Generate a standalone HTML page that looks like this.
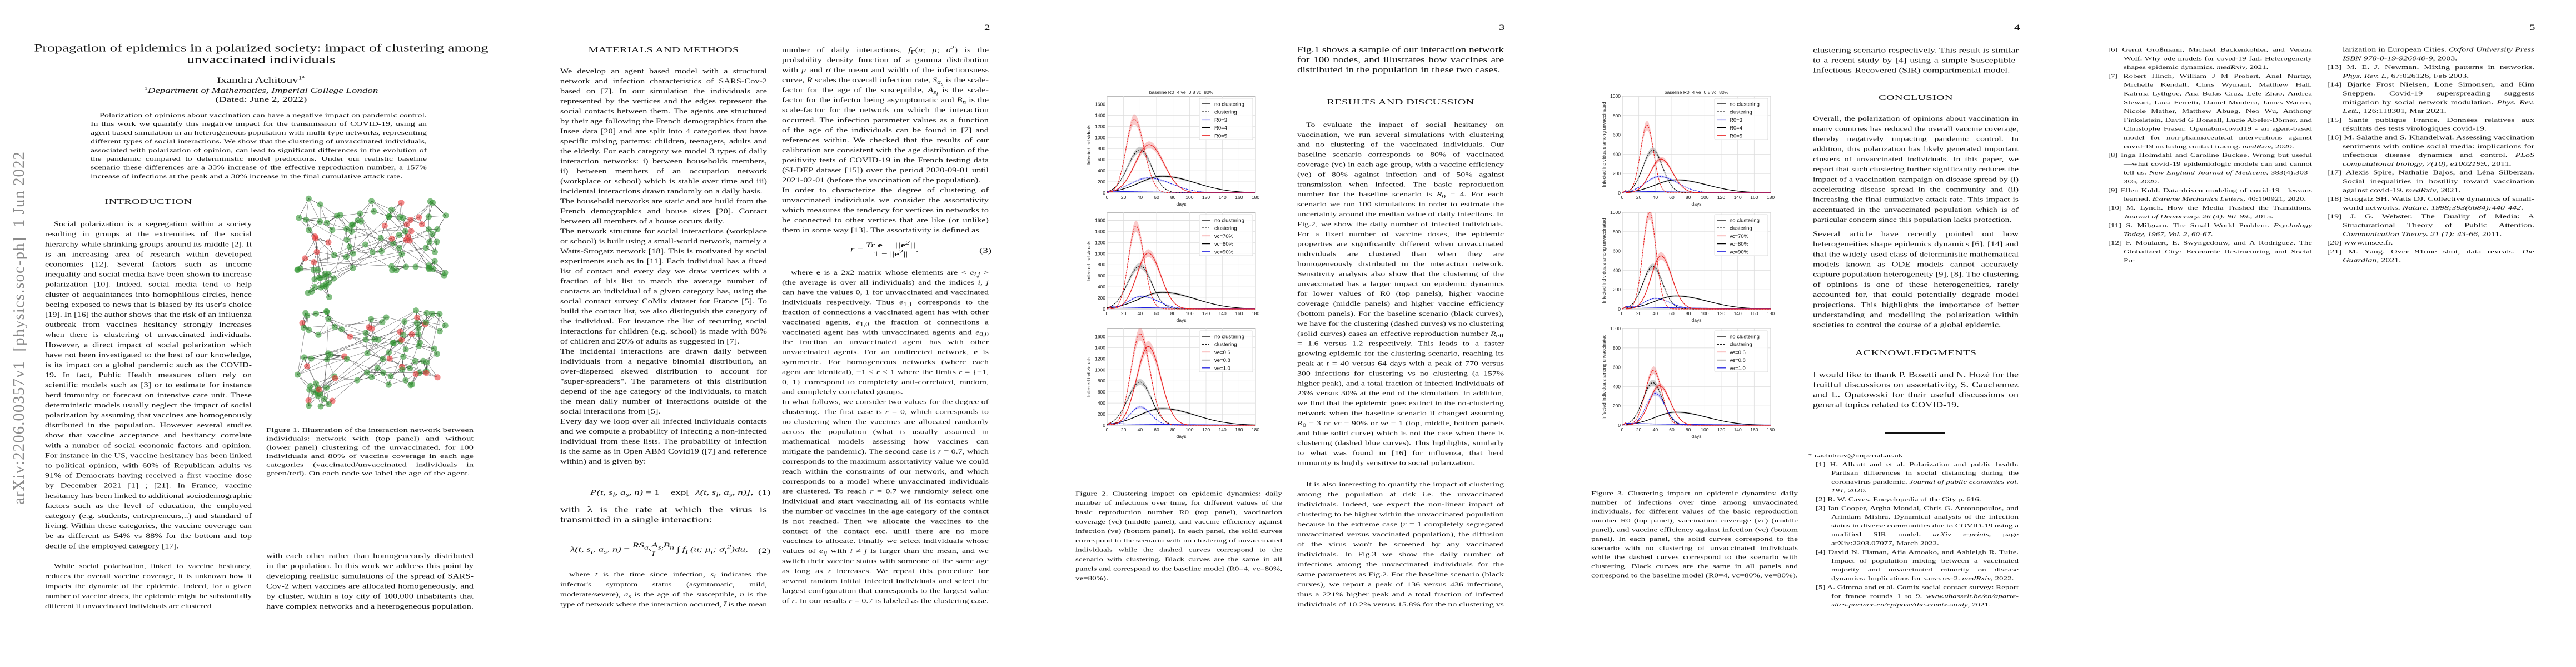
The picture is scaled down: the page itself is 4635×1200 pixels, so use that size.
<!DOCTYPE html>
<html lang="en"><head><meta charset="utf-8">
<style>
html,body{margin:0;padding:0;background:#fff;}
body{width:4635px;height:1200px;position:relative;overflow:hidden;font-family:"Liberation Serif",serif;color:#111;}
.s{transform:scaleY(0.69);transform-origin:0 0;}
.b,.cap,.ref{position:absolute;font-size:20px;line-height:24px;text-align:justify;hyphens:auto;-webkit-hyphens:auto;transform-origin:0 0;transform:scaleY(0.75);}
.b p,.cap p{margin:0;}
.ind{text-indent:16px;}
sub,sup{line-height:0;}
.h{position:absolute;font-size:20.3px;line-height:26px;text-align:center;letter-spacing:0.3px;transform:scaleY(0.69);transform-origin:0 0;}
.ref p{margin:0 0 0 28px;text-indent:-28px;}
.pn{position:absolute;top:41px;font-size:21px;transform:scaleY(0.69);transform-origin:0 0;}
.eq{position:absolute;font-size:19px;font-style:italic;white-space:nowrap;transform:scaleY(0.69);transform-origin:0 0;}
.eqn{position:absolute;font-size:19px;transform:scaleY(0.69);transform-origin:0 0;}
svg{position:absolute;overflow:visible;}
</style></head><body>

<div style="position:absolute;left:18px;top:908px;transform-origin:0 0;transform:rotate(-90deg);font-size:29px;color:#8a8a8a;white-space:nowrap;letter-spacing:1px;font-family:'Liberation Serif',serif;">arXiv:2206.00357v1&nbsp; [physics.soc-ph]&nbsp; 1 Jun 2022</div>

<!-- PAGE 1 -->
<div class="s" style="position:absolute;left:60px;width:820px;top:76px;text-align:center;font-size:26.8px;line-height:30.4px;">Propagation of epidemics in a polarized society: impact of clustering among<br>unvaccinated individuals</div>
<div class="s" style="position:absolute;left:100px;width:740px;top:136px;text-align:center;font-size:21px;">Ixandra Achitouv<sup style="font-size:13px">1*</sup></div>
<div class="s" style="position:absolute;left:100px;width:740px;top:156px;text-align:center;font-size:19px;font-style:italic;"><sup style="font-size:12px;font-style:normal">1</sup>Department of Mathematics, Imperial College London</div>
<div class="s" style="position:absolute;left:100px;width:740px;top:172px;text-align:center;font-size:19px;">(Dated: June 2, 2022)</div>
<div class="b" id="t1" style="left:163px;width:605px;top:200px;"><p class="ind">Polarization of opinions about vaccination can have a negative impact on pandemic control. In this work we quantify this negative impact for the transmission of COVID-19, using an agent based simulation in an heterogeneous population with multi-type networks, representing different types of social interactions. We show that the clustering of unvaccinated individuals, associated with polarization of opinion, can lead to significant differences in the evolution of the pandemic compared to deterministic model predictions. Under our realistic baseline scenario these differences are a 33% increase of the effective reproduction number, a 157% increase of infections at the peak and a 30% increase in the final cumulative attack rate.</p></div>
<div class="h" style="left:81px;width:372px;top:354px;">INTRODUCTION</div>
<div class="b" id="t2" style="left:81px;width:372px;top:395px;"><p class="ind">Social polarization is a segregation within a society resulting in groups at the extremities of the social hierarchy while shrinking groups around its middle [2]. It is an increasing area of research within developed economies [12]. Several factors such as income inequality and social media have been shown to increase polarization [10]. Indeed, social media tend to help cluster of acquaintances into homophilous circles, hence beeing exposed to news that is biased by its user's choice [19]. In [16] the author shows that the risk of an influenza outbreak from vaccines hesitancy strongly increases when there is clustering of unvaccinated individuals. However, a direct impact of social polarization which have not been investigated to the best of our knowledge, is its impact on a global pandemic such as the COVID-19. In fact, Public Health measures often rely on scientific models such as [3] or to estimate for instance herd immunity or forecast on intensive care unit. These deterministic models usually neglect the impact of social polarization by assuming that vaccines are homogenously distributed in the population. However several studies show that vaccine acceptance and hesitancy correlate with a number of social economic factors and opinion. For instance in the US, vaccine hesitancy has been linked to political opinion, with 60% of Republican adults vs 91% of Democrats having received a first vaccine dose by December 2021 [1] ; [21]. In France, vaccine hesitancy has been linked to additional sociodemographic factors such as the level of education, the employed category (e.g. students, entrepreneurs,..) and standard of living. Within these categories, the vaccine coverage can be as different as 54% vs 88% for the bottom and top decile of the employed category [17].</p></div>
<div class="b" id="t3" style="left:81px;width:372px;top:1010px;"><p class="ind">While social polarization, linked to vaccine hesitancy, reduces the overall vaccine coverage, it is unknown how it impacts the dynamic of the epidemic. Indeed, for a given number of vaccine doses, the epidemic might be substantially different if unvaccinated individuals are clustered</p></div>
<svg id="net" style="left:0;top:0;" width="930" height="800"></svg>
<div class="cap" id="t4" style="left:479px;width:373px;top:766px;">Figure 1. Illustration of the interaction network between individuals: network with (top panel) and without (lower panel) clustering of the unvaccinated, for 100 individuals and 80% of vaccine coverage in each age categories (vaccinated/unvaccinated individuals in green/red). On each node we label the age of the agent.</div>
<div class="b" id="t5" style="left:479px;width:373px;top:991px;"><p>with each other rather than homogeneously distributed in the population. In this work we address this point by developing realistic simulations of the spread of SARS-Cov-2 when vaccines are allocated homogeneously, and by cluster, within a toy city of 100,000 inhabitants that have complex networks and a heterogeneous population.</p></div>

<!-- PAGE 2 -->
<div class="pn" style="left:1771px;">2</div>
<div class="h" style="left:1008px;width:372px;top:81px;">MATERIALS AND METHODS</div>
<div class="b" id="t6" style="left:1008px;width:372px;top:119px;"><p>We develop an agent based model with a structural network and infection characteristics of SARS-Cov-2 based on [7]. In our simulation the individuals are represented by the vertices and the edges represent the social contacts between them. The agents are structured by their age following the French demographics from the Insee data [20] and are split into 4 categories that have specific mixing patterns: children, teenagers, adults and the elderly. For each category we model 3 types of daily interaction networks: i) between households members, ii) between members of an occupation network (workplace or school) which is stable over time and iii) incidental interactions drawn randomly on a daily basis.</p><p>The household networks are static and are build from the French demographics and house sizes [20]. Contact between all members of a house occurs daily.</p><p>The network structure for social interactions (workplace or school) is built using a small-world network, namely a Watts-Strogatz network [18]. This is motivated by social experiments such as in [11]. Each individual has a fixed list of contact and every day we draw vertices with a fraction of his list to match the average number of contacts an individual of a given category has, using the social contact survey CoMix dataset for France [5]. To build the contact list, we also distinguish the category of the individual. For instance the list of recurring social interactions for children (e.g. school) is made with 80% of children and 20% of adults as suggested in [7].</p><p>The incidental interactions are drawn daily between individuals from a negative binomial distribution, an over-dispersed skewed distribution to account for "super-spreaders". The parameters of this distribution depend of the age category of the individuals, to match the mean daily number of interactions outside of the social interactions from [5].</p><p>Every day we loop over all infected individuals contacts and we compute a probability of infecting a non-infected individual from these lists. The probability of infection is the same as in Open ABM Covid19 ([7] and reference within) and is given by:</p></div>
<div class="eq" style="left:1062px;top:879px;">P(t, s<sub>i</sub>, a<sub>s</sub>, n) <span style="font-style:normal">= 1 − exp[−</span>λ(t, s<sub>i</sub>, a<sub>s</sub>, n)],</div>
<div class="eqn" style="left:1364px;top:879px;">(1)</div>
<div class="b" id="t7" style="left:1008px;width:372px;top:908px;"><p>with λ is the rate at which the virus is transmitted in a single interaction:</p></div>
<div class="eq" style="left:1026px;top:974px;">λ(t, s<sub>i</sub>, a<sub>s</sub>, n) <span style="font-style:normal">=</span> <span style="display:inline-block;vertical-align:middle;text-align:center;"><span style="display:block;border-bottom:1px solid #111;">RS<sub>a<sub>s</sub></sub>A<sub>s<sub>i</sub></sub>B<sub>n</sub></span><span style="display:block;">Ī</span></span> ∫ f<sub>Γ</sub>(u; μ<sub>i</sub>; σ<sub>i</sub><sup>2</sup>)du,</div>
<div class="eqn" style="left:1364px;top:984px;">(2)</div>
<div class="b" id="t8" style="left:1008px;width:372px;top:1025px;"><p class="ind">where <i>t</i> is the time since infection, <i>s<sub>i</sub></i> indicates the infector's symptom status (asymtomatic, mild, moderate/severe), <i>a<sub>s</sub></i> is the age of the susceptible, <i>n</i> is the type of network where the interaction occurred, <i>Ī</i> is the mean</p></div>
<div class="b" id="t9" style="left:1407px;width:372px;top:81px;"><p>number of daily interactions, <i>f</i><sub>Γ</sub>(<i>u</i>; <i>μ</i>; <i>σ</i><sup>2</sup>) is the probability density function of a gamma distribution with <i>μ</i> and <i>σ</i> the mean and width of the infectiousness curve, <i>R</i> scales the overall infection rate, <i>S<sub>a<sub>s</sub></sub></i> is the scale-factor for the age of the susceptible, <i>A<sub>s<sub>i</sub></sub></i> is the scale-factor for the infector being asymptomatic and <i>B<sub>n</sub></i> is the scale-factor for the network on which the interaction occurred. The infection parameter values as a function of the age of the individuals can be found in [7] and references within. We checked that the results of our calibration are consistent with the age distribution of the positivity tests of COVID-19 in the French testing data (SI-DEP dataset [15]) over the period 2020-09-01 until 2021-02-01 (before the vaccination of the population).</p><p>In order to characterize the degree of clustering of unvaccinated individuals we consider the assortativity which measures the tendency for vertices in networks to be connected to other vertices that are like (or unlike) them in some way [13]. The assortativity is defined as</p></div>
<div class="eq" style="left:1530px;top:434px;">r <span style="font-style:normal">=</span> <span style="display:inline-block;vertical-align:middle;text-align:center;"><span style="display:block;border-bottom:1px solid #111;">Tr <b style="font-style:normal">e</b> − ||<b style="font-style:normal">e</b><sup>2</sup>||</span><span style="display:block;font-style:normal">1 − ||<b>e</b><sup>2</sup>||</span></span>,</div>
<div class="eqn" style="left:1762px;top:444px;">(3)</div>
<div class="b" id="t10" style="left:1407px;width:372px;top:482px;"><p class="ind">where <b>e</b> is a 2x2 matrix whose elements are &lt; <i>e<sub>i,j</sub></i> &gt; (the average is over all individuals) and the indices <i>i, j</i> can have the values 0, 1 for unvaccinated and vaccinated individuals respectively. Thus <i>e</i><sub>1,1</sub> corresponds to the fraction of connections a vaccinated agent has with other vaccinated agents, <i>e</i><sub>1,0</sub> the fraction of connections a vaccinated agent has with unvaccinated agents and <i>e</i><sub>0,0</sub> the fraction an unvaccinated agent has with other unvaccinated agents. For an undirected network, <b>e</b> is symmetric. For homogeneous networks (where each agent are identical), −1 ≤ <i>r</i> ≤ 1 where the limits <i>r</i> = {−1, 0, 1} correspond to completely anti-correlated, random, and completely correlated groups.</p><p>In what follows, we consider two values for the degree of clustering. The first case is <i>r</i> = 0, which corresponds to no-clustering when the vaccines are allocated randomly across the population (what is usually assumed in mathematical models assessing how vaccines can mitigate the pandemic). The second case is <i>r</i> = 0.7, which corresponds to the maximum assortativity value we could reach within the constraints of our network, and which corresponds to a model where unvaccinated individuals are clustered. To reach <i>r</i> = 0.7 we randomly select one individual and start vaccinating all of its contacts while the number of vaccines in the age category of the contact is not reached. Then we allocate the vaccines to the contact of the contact etc. until there are no more vaccines to allocate. Finally we select individuals whose values of <i>e<sub>ij</sub></i> with <i>i</i> ≠ <i>j</i> is larger than the mean, and we switch their vaccine status with someone of the same age as long as <i>r</i> increases. We repeat this procedure for several random initial infected individuals and select the largest configuration that corresponds to the largest value of <i>r</i>. In our results <i>r</i> = 0.7 is labeled as the clustering case.</p></div>

<!-- PAGE 3 -->
<div class="pn" style="left:2697px;">3</div>
<svg id="plots" style="left:0;top:0;" width="4635" height="1200"></svg>
<div class="cap" id="t11" style="left:1935px;width:372px;top:880px;">Figure 2. Clustering impact on epidemic dynamics: daily number of infections over time, for different values of the basic reproduction number R0 (top panel), vaccination coverage (vc) (middle panel), and vaccine efficiency against infection (ve) (bottom panel). In each panel, the solid curves correspond to the scenario with no clustering of unvaccinated individuals while the dashed curves correspond to the scenario with clustering. Black curves are the same in all panels and correspond to the baseline model (R0=4, vc=80%, ve=80%).</div>
<div class="b" id="t12" style="left:2334px;width:372px;top:81px;"><p>Fig.1 shows a sample of our interaction network for 100 nodes, and illustrates how vaccines are distributed in the population in these two cases.</p></div>
<div class="h" style="left:2334px;width:372px;top:175px;">RESULTS AND DISCUSSION</div>
<div class="b" id="t13" style="left:2334px;width:372px;top:216px;"><p class="ind">To evaluate the impact of social hesitancy on vaccination, we run several simulations with clustering and no clustering of the vaccinated individuals. Our baseline scenario corresponds to 80% of vaccinated coverage (vc) in each age group, with a vaccine efficiency (ve) of 80% against infection and of 50% against transmission when infected. The basic reproduction number for the baseline scenario is <i>R</i><sub>0</sub> = 4. For each scenario we run 100 simulations in order to estimate the uncertainty around the median value of daily infections. In Fig.2, we show the daily number of infected individuals. For a fixed number of vaccine doses, the epidemic properties are significantly different when unvaccinated individuals are clustered than when they are homogeneously distributed in the interaction network. Sensitivity analysis also show that the clustering of the unvaccinated has a larger impact on epidemic dynamics for lower values of R0 (top panels), higher vaccine coverage (middle panels) and higher vaccine efficiency (bottom panels). For the baseline scenario (black curves), we have for the clustering (dashed curves) vs no clustering (solid curves) cases an effective reproduction number <i>R</i><sub>eff</sub> = 1.6 versus 1.2 respectively. This leads to a faster growing epidemic for the clustering scenario, reaching its peak at <i>t</i> = 40 versus 64 days with a peak of 770 versus 300 infections for clustering vs no clustering (a 157% higher peak), and a total fraction of infected individuals of 23% versus 30% at the end of the simulation. In addition, we find that the epidemic goes extinct in the no-clustering network when the baseline scenario if changed assuming <i>R</i><sub>0</sub> = 3 or <i>vc</i> = 90% or <i>ve</i> = 1 (top, middle, bottom panels and blue solid curve) which is not the case when there is clustering (dashed blue curves). This highlights, similarly to what was found in [16] for influenza, that herd immunity is highly sensitive to social polarization.</p></div>
<div class="b" id="t14" style="left:2334px;width:372px;top:863px;"><p class="ind">It is also interesting to quantify the impact of clustering among the population at risk i.e. the unvaccinated individuals. Indeed, we expect the non-linear impact of clustering to be higher within the unvaccinated population because in the extreme case (<i>r</i> = 1 completely segregated unvaccinated versus vaccinated population), the diffusion of the virus won't be screened by any vaccinated individuals. In Fig.3 we show the daily number of infections among the unvaccinated individuals for the same parameters as Fig.2. For the baseline scenario (black curves), we report a peak of 136 versus 436 infections, thus a 221% higher peak and a total fraction of infected individuals of 10.2% versus 15.8% for the no clustering vs</p></div>

<!-- PAGE 4 -->
<div class="pn" style="left:3624px;">4</div>
<div class="cap" id="t15" style="left:2863px;width:372px;top:880px;">Figure 3. Clustering impact on epidemic dynamics: daily number of infections over time among unvaccinated individuals, for different values of the basic reproduction number R0 (top panel), vaccination coverage (vc) (middle panel), and vaccine efficiency against infection (ve) (bottom panel). In each panel, the solid curves correspond to the scenario with no clustering of unvaccinated individuals while the dashed curves correspond to the scenario with clustering. Black curves are the same in all panels and correspond to the baseline model (R0=4, vc=80%, ve=80%).</div>
<div class="b" id="t16" style="left:3262px;width:370px;top:81px;"><p>clustering scenario respectively. This result is similar to a recent study by [4] using a simple Susceptible-Infectious-Recovered (SIR) compartmental model.</p></div>
<div class="h" style="left:3262px;width:370px;top:167px;">CONCLUSION</div>
<div class="b" id="t17" style="left:3262px;width:370px;top:205px;"><p>Overall, the polarization of opinions about vaccination in many countries has reduced the overall vaccine coverage, thereby negatively impacting pandemic control. In addition, this polarization has likely generated important clusters of unvaccinated individuals. In this paper, we report that such clustering further significantly reduces the impact of a vaccination campaign on disease spread by (i) accelerating disease spread in the community and (ii) increasing the final cumulative attack rate. This impact is accentuated in the unvaccinated population which is of particular concern since this population lacks protection.</p></div>
<div class="b" id="t18" style="left:3262px;width:370px;top:412px;"><p>Several article have recently pointed out how heterogeneities shape epidemics dynamics [6], [14] and that the widely-used class of deterministic mathematical models known as ODE models cannot accurately capture population heterogeneity [9], [8]. The clustering of opinions is one of these heterogeneities, rarely accounted for, that could potentially degrade model projections. This highlights the importance of better understanding and modelling the polarization within societies to control the course of a global epidemic.</p></div>
<div class="h" style="left:3262px;width:370px;top:626px;">ACKNOWLEDGMENTS</div>
<div class="b" id="t19" style="left:3262px;width:370px;top:665px;"><p>I would like to thank P. Bosetti and N. Hozé for the fruitful discussions on assortativity, S. Cauchemez and L. Opatowski for their useful discussions on general topics related to COVID-19.</p></div>
<div style="position:absolute;left:3392px;width:107px;top:778px;height:2px;background:#111;"></div>
<div class="ref" id="t20" style="left:3267px;width:365px;top:812px;">
<p style="margin-left:14px">* i.achitouv@imperial.ac.uk</p>
<p>[1] H. Allcott and et al. Polarization and public health: Partisan differences in social distancing during the coronavirus pandemic. <i>Journal of public economics vol. 191</i>, 2020.</p>
<p>[2] R. W. Caves. Encyclopedia of the City p. 616.</p>
<p>[3] Ian Cooper, Argha Mondal, Chris G. Antonopoulos, and Arindam Mishra. Dynamical analysis of the infection status in diverse communities due to COVID-19 using a modified SIR model. <i>arXiv e-prints</i>, page arXiv:2203.07077, March 2022.</p>
<p>[4] David N. Fisman, Afia Amoako, and Ashleigh R. Tuite. Impact of population mixing between a vaccinated majority and unvaccinated minority on disease dynamics: Implications for sars-cov-2. <i>medRxiv</i>, 2022.</p>
<p>[5] A. Gimma and et al. Comix social contact survey: Report for france rounds 1 to 9. <i>www.uhasselt.be/en/aparte-sites-partner-en/epipose/the-comix-study</i>, 2021.</p>
</div>

<!-- PAGE 5 -->
<div class="pn" style="left:4551px;">5</div>
<div class="ref" id="t21" style="left:3793px;width:367px;top:82px;">
<p>[6] Gerrit Großmann, Michael Backenköhler, and Verena Wolf. Why ode models for covid-19 fail: Heterogeneity shapes epidemic dynamics. <i>medRxiv</i>, 2021.</p>
<p>[7] Robert Hinch, William J M Probert, Anel Nurtay, Michelle Kendall, Chris Wymant, Matthew Hall, Katrina Lythgoe, Ana Bulas Cruz, Lele Zhao, Andrea Stewart, Luca Ferretti, Daniel Montero, James Warren, Nicole Mather, Matthew Abueg, Neo Wu, Anthony Finkelstein, David G Bonsall, Lucie Abeler-Dörner, and Christophe Fraser. Openabm-covid19 - an agent-based model for non-pharmaceutical interventions against covid-19 including contact tracing. <i>medRxiv</i>, 2020.</p>
<p>[8] Inga Holmdahl and Caroline Buckee. Wrong but useful—what covid-19 epidemiologic models can and cannot tell us. <i>New England Journal of Medicine</i>, 383(4):303–305, 2020.</p>
<p>[9] Ellen Kuhl. Data-driven modeling of covid-19—lessons learned. <i>Extreme Mechanics Letters</i>, 40:100921, 2020.</p>
<p>[10] M. Lynch. How the Media Trashed the Transitions. <i>Journal of Democracy. 26 (4): 90–99.</i>, 2015.</p>
<p>[11] S. Milgram. The Small World Problem. <i>Psychology Today, 1967, Vol. 2, 60-67.</i></p>
<p>[12] F. Moulaert, E. Swyngedouw, and A Rodriguez. The Globalized City: Economic Restructuring and Social Po-</p>
</div>
<div class="ref" id="t22" style="left:4187px;width:373px;top:82px;">
<p style="margin-left:0;text-indent:0;padding-left:28px">larization in European Cities. <i>Oxford University Press ISBN 978-0-19-926040-9</i>, 2003.</p>
<p>[13] M. E. J. Newman. Mixing patterns in networks. <i>Phys. Rev. E</i>, 67:026126, Feb 2003.</p>
<p>[14] Bjarke Frost Nielsen, Lone Simonsen, and Kim Sneppen. Covid-19 superspreading suggests mitigation by social network modulation. <i>Phys. Rev. Lett.</i>, 126:118301, Mar 2021.</p>
<p>[15] Santé publique France. Données relatives aux résultats des tests virologiques covid-19.</p>
<p>[16] M. Salathe and S. Khandelwal. Assessing vaccination sentiments with online social media: implications for infectious disease dynamics and control. <i>PLoS computational biology, 7(10), e1002199.</i>, 2011.</p>
<p>[17] Alexis Spire, Nathalie Bajos, and Léna Silberzan. Social inequalities in hostility toward vaccination against covid-19. <i>medRxiv</i>, 2021.</p>
<p>[18] Strogatz SH. Watts DJ. Collective dynamics of small-world networks. <i>Nature. 1998;393(6684):440-442.</i></p>
<p>[19] J. G. Webster. The Duality of Media: A Structurational Theory of Public Attention. <i>Communication Theory. 21 (1): 43-66</i>, 2011.</p>
<p>[20] www.insee.fr.</p>
<p>[21] M. Yang. Over 91one shot, data reveals. <i>The Guardian</i>, 2021.</p>
</div>

<script>
(function(){
var fit=[['t1',8,15.7],['t2',33,18.1],['t3',5,18],['t4',6,15.6],['t5',6,18.2],['t6',40,18],['t7',2,18],['t8',4,18],
['t9',19,18],['t10',34,17.9],['t11',9,16.9],['t12',3,18],['t13',35,17.9],['t14',13,18],['t15',10,16.4],['t16',3,18],
['t17',11,18.2],['t18',10,18.2],['t19',4,18],['t20',18,15.8],['t21',24,15.8],['t22',25,15.8]];
fit.forEach(function(f){
  var e=document.getElementById(f[0]);if(!e)return;
  e.style.transform='scaleY('+(f[2]/24)+')';
  function lines(fs){e.style.fontSize=fs+'px';return Math.round(e.offsetHeight/24);}
  var lo=15,hi=20;
  if(lines(hi)<=f[1]){return;}
  for(var k=0;k<16;k++){var m=(lo+hi)/2;if(lines(m)<=f[1])lo=m;else hi=m;}
  lines(lo);
});

var NS="http://www.w3.org/2000/svg";
function el(p,t,a,txt){var e=document.createElementNS(NS,t);for(var k in a)e.setAttribute(k,a[k]);if(txt!==undefined)e.textContent=txt;p.appendChild(e);return e;}
var seed=7;function rnd(){seed=(seed*16807)%2147483647;return (seed-1)/2147483646;}
var net=document.getElementById('net');
function network(x0,y0,redIdx){
  var nodes=[];
  for(var i=0;i<100;i++){
    var x,y;
    if(i<85){x=x0+10+rnd()*268;y=y0+5+rnd()*140;}
    else {x=x0+25+rnd()*55;y=y0+140+rnd()*45;}
    nodes.push([x,y]);
  }
  var g=el(net,'g',{stroke:'#333','stroke-width':0.6,'stroke-opacity':0.7});
  for(var i=0;i<100;i++){
    var d=[];for(var j=0;j<100;j++)if(j!=i)d.push([Math.hypot(nodes[i][0]-nodes[j][0],nodes[i][1]-nodes[j][1]),j]);
    d.sort(function(a,b){return a[0]-b[0];});
    for(var k=0;k<4;k++){var j=d[k][1];el(g,'line',{x1:nodes[i][0],y1:nodes[i][1],x2:nodes[j][0],y2:nodes[j][1]});}
    if(rnd()<0.5){var j=Math.floor(rnd()*100);el(g,'line',{x1:nodes[i][0],y1:nodes[i][1],x2:nodes[j][0],y2:nodes[j][1]});}
  }
  for(var i=0;i<100;i++){
    var red=redIdx(nodes[i],i);
    el(net,'circle',{cx:nodes[i][0],cy:nodes[i][1],r:5.5,fill:red?'rgba(235,60,60,0.6)':'rgba(50,150,50,0.6)'});
  }
}
network(525,352,function(p,i){var dx=p[0]-570,dy=p[1]-450;var dx2=p[0]-720,dy2=p[1]-390;return (dx*dx+dy*dy<900)||(dx2*dx2+dy2*dy2<2500&&i%2==0);});
network(525,552,function(p,i){return i%5==0;});

var sv=document.getElementById('plots');
function curve(pk,tp,sl,sr,st){return function(t){var s=t<tp?sl:sr;var v=pk*Math.exp(-(t-tp)*(t-tp)/(2*s*s));return Math.max(v, t<5?st*t/5:0);};}
function plot(ax,ay,ymax,ticks,title,ylabel,leg,cs){
  var W=267,H=174;
  function X(t){return ax+t/180*W;} function Y(v){return ay+H-v/ymax*H;}
  var g=el(sv,'g',{});
  el(g,'rect',{x:ax,y:ay,width:W,height:H,fill:'#fff',stroke:'#777','stroke-width':1});
  for(var t=0;t<=180;t+=20){el(g,'line',{x1:X(t),x2:X(t),y1:ay,y2:ay+H,stroke:'#ddd','stroke-width':0.8});
    el(g,'text',{x:X(t),y:ay+H+11,'font-size':8.5,'text-anchor':'middle','font-family':'Liberation Sans, sans-serif',fill:'#222'},t);}
  ticks.forEach(function(v){el(g,'line',{x1:ax,x2:ax+W,y1:Y(v),y2:Y(v),stroke:'#ddd','stroke-width':0.8});
    el(g,'text',{x:ax-3,y:Y(v)+3,'font-size':8.5,'text-anchor':'end','font-family':'Liberation Sans, sans-serif',fill:'#222'},v);});
  el(g,'text',{x:ax+W/2,y:ay+H+23,'font-size':8.5,'text-anchor':'middle','font-family':'Liberation Sans, sans-serif',fill:'#222'},'days');
  el(g,'text',{x:0,y:0,'font-size':8.5,'text-anchor':'middle','font-family':'Liberation Sans, sans-serif',fill:'#222',transform:'translate('+(ax-30)+','+(ay+H/2)+') rotate(-90)'},ylabel);
  if(title)el(g,'text',{x:ax+W/2,y:ay-4,'font-size':8.5,'text-anchor':'middle','font-family':'Liberation Sans, sans-serif',fill:'#222'},title);
  cs.forEach(function(c){
    var f=c.f,up=[],dn=[];
    for(var t=0;t<=180;t+=2){var v=f(t);var b=Math.max(v*0.07,4);up.push(X(t)+','+Y(Math.min(v+b,ymax)));dn.unshift(X(t)+','+Y(Math.max(v-b,0)));}
    var band=c.col=='red'?'rgba(240,80,80,0.3)':c.col=='blue'?'rgba(90,90,240,0.25)':'rgba(120,120,120,0.35)';
    el(g,'polygon',{points:up.concat(dn).join(' '),fill:band,stroke:'none'});
  });
  cs.forEach(function(c){
    var pts=[];for(var t=0;t<=180;t+=1)pts.push(X(t)+','+Y(c.f(t)));
    var col=c.col=='red'?'#e82020':c.col=='blue'?'#2020e0':'#000';
    var a={points:pts.join(' '),fill:'none',stroke:col,'stroke-width':1.2};
    if(c.d)a['stroke-dasharray']='3,2';
    el(g,'polyline',a);
  });
  var lx=ax+W-101,ly=ay+4;
  el(g,'rect',{x:lx,y:ly,width:96,height:74,fill:'#fff','fill-opacity':0.85,stroke:'#ddd',rx:2});
  var items=[['no clustering','#000',0],['clustering','#000',1]].concat(leg);
  items.forEach(function(it,i){var yy=ly+10+i*14.2;
    var a={x1:lx+5,x2:lx+20,y1:yy,y2:yy,stroke:it[1],'stroke-width':1.3};if(it[2])a['stroke-dasharray']='3,2';
    el(g,'line',a);
    el(g,'text',{x:lx+27,y:yy+3.5,'font-size':9.5,'font-family':'Liberation Sans, sans-serif',fill:'#111'},it[0]);});
}
function base2(){return [{col:'black',f:curve(300,67,28,40,50)},{col:'black',d:1,f:curve(780,40,15,14,50)}];}
function base3(){return [{col:'black',f:curve(135,65,25,38,25)},{col:'black',d:1,f:curve(440,37,12,12,25)}];}
function blueS(v){return {col:'blue',f:function(t){return t<5?v*t/5:v*Math.exp(-(t-5)/90);}};}
var L1=[['R0=3','#2020e0'],['R0=4','#000'],['R0=5','#e82020']];
var L2=[['vc=70%','#e82020'],['vc=80%','#000'],['vc=90%','#2020e0']];
var L3=[['ve=0.6','#e82020'],['ve=0.8','#000'],['ve=1.0','#2020e0']];
var T2=[0,200,400,600,800,1000,1200,1400,1600],T3=[0,200,400,600,800,1000];
var ttl='baseline   R0=4  ve=0.8  vc=80%';
var ax2=1992,ax3=2919;
plot(ax2,173,1745,T2,ttl,'Infected individuals',L1,base2().concat([blueS(30),{col:'blue',d:1,f:curve(270,50,22,28,45)},{col:'red',f:curve(870,51,17,18,50)},{col:'red',d:1,f:curve(1330,33,10,12,60)}]));
plot(ax2,382,1745,T2,'','Infected individuals',L2,base2().concat([blueS(40),{col:'blue',d:1,f:curve(230,42,16,20,45)},{col:'red',f:curve(1010,50,14,15,50)},{col:'red',d:1,f:curve(1500,35,9,10,60)}]));
plot(ax2,591,1745,T2,'','Infected individuals',L3,base2().concat([blueS(30),{col:'blue',d:1,f:curve(330,40,12,13,45)},{col:'red',f:curve(1420,50,14,15,50)},{col:'red',d:1,f:curve(1650,40,11,12,60)}]));
plot(ax3,173,1000,T3,ttl,'Infected individuals among unvaccinated',L1,base3().concat([blueS(20),{col:'blue',d:1,f:curve(170,45,17,22,25)},{col:'red',f:curve(350,47,13,14,30)},{col:'red',d:1,f:curve(700,30,8,8,30)}]));
plot(ax3,382,1000,T3,'','Infected individuals among unvaccinated',L2,base3().concat([blueS(25),{col:'blue',d:1,f:curve(110,40,14,18,25)},{col:'red',f:curve(550,47,12,13,30)},{col:'red',d:1,f:curve(1000,33,8,8,30)}]));
plot(ax3,591,1000,T3,'','Infected individuals among unvaccinated',L3,base3().concat([blueS(20),{col:'blue',d:1,f:curve(330,40,11,12,25)},{col:'red',f:curve(410,45,12,13,30)},{col:'red',d:1,f:curve(570,38,10,10,30)}]));
})();
</script>
</body></html>
